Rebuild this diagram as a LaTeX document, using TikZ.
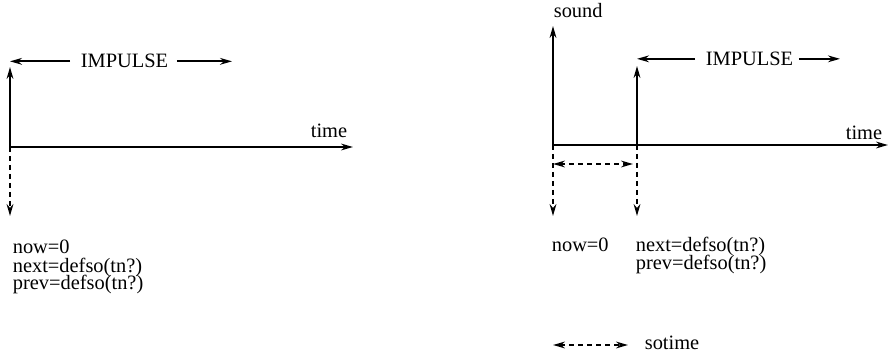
\documentclass[tikz,border=0pt]{standalone}
\usepackage{fontspec}
\setmainfont{Liberation Serif}
\usetikzlibrary{arrows.meta}

\begin{document}
\begin{tikzpicture}[x=0.5pt,y=-0.5pt,line width=0.85pt,>={Stealth[length=6pt,width=3.4pt]},
  every node/.style={font=\fontsize{10.2}{12}\selectfont,inner sep=0pt},
  dsh/.style={dash pattern=on 2.5pt off 2pt}]
\useasboundingbox (0,0) rectangle (890,358);
% left: impulse at now
\coordinate (o1) at (10,147);
\coordinate (up1) at (10,67);
\coordinate (t1) at (353,147);
\coordinate (dn1) at (10,216);
\coordinate (ie1) at (232,62);
\draw[->] (o1)--(up1);
\draw[->] (o1)--(t1);
\draw[->,dsh] (o1)--(dn1);
\node[anchor=base east] (time1) at (348,138) {time};
\node[anchor=base west] (imp1) at (80,68) {IMPULSE};
\draw[->] ([xshift=-5pt]imp1.west)--(imp1.west -| o1);
\draw[->] ([xshift=4pt]imp1.east)--(imp1.east -| ie1);
\node[anchor=base west] (now1) at (12,254) {now=0};
\node[anchor=base west] (next1) at (12,272) {next=defso(tn?)};
\node[anchor=base west] (prev1) at (12,290) {prev=defso(tn?)};
% right: impulse after sotime
\coordinate (o2) at (553,145);
\coordinate (up2) at (553,26);
\coordinate (t2) at (888,145);
\coordinate (p2) at (637,145);
\coordinate (pu2) at (637,66);
\coordinate (dn2) at (553,216);
\coordinate (pd2) at (637,216);
\coordinate (sa) at (553,164);
\coordinate (sb) at (633,164);
\coordinate (ie2) at (840,59);
\draw[->] (o2)--(up2);
\draw[->] (o2)--(t2);
\draw[->] (p2)--(pu2);
\draw[->,dsh] (o2)--(dn2);
\draw[->,dsh] (p2)--(pd2);
\draw[<->,dsh] (sa)--(sb);
\node[anchor=base west] (sound) at (553,18) {sound};
\node[anchor=base east] (time2) at (883,140) {time};
\node[anchor=base west] (imp2) at (705,65.5) {IMPULSE};
\draw[->] ([xshift=-5pt]imp2.west)--(imp2.west -| p2);
\draw[->] ([xshift=2.5pt]imp2.east)--(imp2.east -| ie2);
\node[anchor=base west] (now2) at (551,251) {now=0};
\node[anchor=base west] (next2) at (635,251) {next=defso(tn?)};
\node[anchor=base west] (prev2) at (635,270) {prev=defso(tn?)};
% legend
\coordinate (la) at (553,345);
\coordinate (lb) at (628,345);
\draw[<->,dsh] (la)--(lb);
\node[anchor=base west] (sotime) at (644,350) {sotime};
\end{tikzpicture}
\end{document}
